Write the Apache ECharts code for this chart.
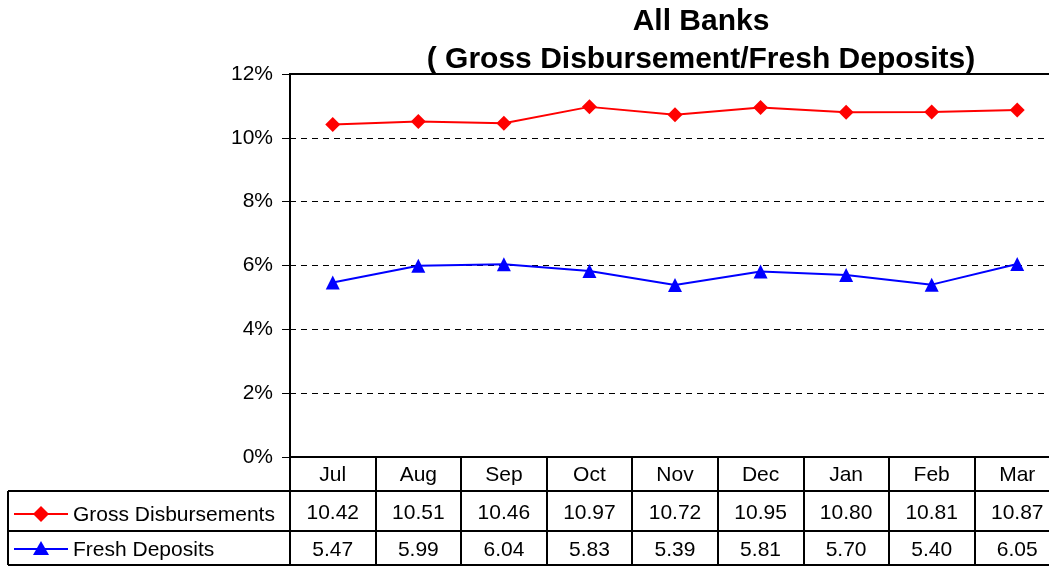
<!DOCTYPE html>
<html><head><meta charset="utf-8">
<script src="https://cdn.jsdelivr.net/npm/echarts@6/dist/echarts.min.js"></script>
<style>html,body{margin:0;padding:0;background:#fff;overflow:hidden}#c{width:1060px;height:566px}</style>
</head><body><div id="c"></div>
<script>
const months = ['Jul','Aug','Sep','Oct','Nov','Dec','Jan','Feb','Mar'];
const grossDisb = [10.42,10.51,10.46,10.97,10.72,10.95,10.80,10.81,10.87];
const freshDep = [5.47,5.99,6.04,5.83,5.39,5.81,5.70,5.40,6.05];
const seriesNames = ['Gross Disbursements','Fresh Deposits'];
const yTicks = [0,2,4,6,8,10,12];

const F = '"Liberation Sans", Arial, sans-serif';
const chart = echarts.init(document.getElementById('c'));
const gridTop = 74, gridH = 383, gridLeft = 290, gridW = 770;
const tableRows = [34, 74, 108];
const tLbl = {fontFamily:F, fontSize:21, color:'#000'};
function valAxis(offset, vals, margin){
  return {type:'category', data:months, gridIndex:0, position:'bottom', offset:offset,
    axisLine:{show:true, lineStyle:{color:'#000', width:2}},
    axisTick:{show:false},
    axisLabel:vals ? Object.assign({margin:margin, interval:0, formatter:(v,i)=>vals[i].toFixed(2)}, tLbl) : {show:false},
    splitLine:{show:false}};
}
const gy = gridTop + gridH;
chart.setOption({
  animation:false,
  title:{text:'All Banks\n( Gross Disbursement/Fresh Deposits)', left:696, top:-2, textAlign:'center',
    textStyle:{fontFamily:F, fontSize:30, fontWeight:'bold', color:'#000', lineHeight:38}},
  grid:{left:gridLeft, top:gridTop, width:gridW, height:gridH, show:true, borderColor:'#000', borderWidth:2, backgroundColor:'transparent'},
  xAxis:[
    {type:'category', data:months, boundaryGap:true,
     axisLine:{show:true, lineStyle:{color:'#000', width:2}},
     axisTick:{show:true, length:108, inside:false, lineStyle:{color:'#000', width:2}},
     axisLabel:Object.assign({margin:8, interval:0}, tLbl), splitLine:{show:false}},
    valAxis(tableRows[0], grossDisb, 12),
    valAxis(tableRows[1], freshDep, 9),
    valAxis(tableRows[2], null, 0)
  ],
  yAxis:{type:'value', min:yTicks[0], max:yTicks[yTicks.length-1], interval:2,
    axisLine:{show:true, lineStyle:{color:'#000', width:2}},
    axisTick:{show:true, length:8, lineStyle:{color:'#000', width:1}},
    axisLabel:Object.assign({formatter:'{value}%', margin:17}, tLbl),
    splitLine:{show:true, lineStyle:{color:'#000', type:[6,5], width:1}}},
  series:[
    {name:seriesNames[0], type:'line', data:grossDisb, symbol:'diamond', symbolSize:15,
     lineStyle:{color:'#FF0000', width:2}, itemStyle:{color:'#FF0000'}},
    {name:seriesNames[1], type:'line', data:freshDep, symbol:'triangle', symbolSize:14,
     lineStyle:{color:'#0000FF', width:2}, itemStyle:{color:'#0000FF'}}
  ],
  graphic:[
    {type:'line', shape:{x1:8, y1:gy+tableRows[0], x2:gridLeft, y2:gy+tableRows[0]}, style:{stroke:'#000', lineWidth:2}},
    {type:'line', shape:{x1:8, y1:gy+tableRows[1], x2:gridLeft, y2:gy+tableRows[1]}, style:{stroke:'#000', lineWidth:2}},
    {type:'line', shape:{x1:8, y1:gy+tableRows[2], x2:gridLeft, y2:gy+tableRows[2]}, style:{stroke:'#000', lineWidth:2}},
    {type:'line', shape:{x1:8, y1:gy+tableRows[0], x2:8, y2:gy+tableRows[2]}, style:{stroke:'#000', lineWidth:2}},
    {type:'line', shape:{x1:14, y1:514, x2:68, y2:514}, style:{stroke:'#FF0000', lineWidth:2}},
    {type:'polygon', shape:{points:[[41,506],[49,514],[41,522],[33,514]]}, style:{fill:'#FF0000'}},
    {type:'text', x:73, y:515, style:{text:seriesNames[0], fontFamily:F, fontSize:21, fill:'#000', verticalAlign:'middle'}},
    {type:'line', shape:{x1:14, y1:549, x2:68, y2:549}, style:{stroke:'#0000FF', lineWidth:2}},
    {type:'polygon', shape:{points:[[41,541],[49,555],[33,555]]}, style:{fill:'#0000FF'}},
    {type:'text', x:73, y:550, style:{text:seriesNames[1], fontFamily:F, fontSize:21, fill:'#000', verticalAlign:'middle'}}
  ]
});
</script></body></html>
